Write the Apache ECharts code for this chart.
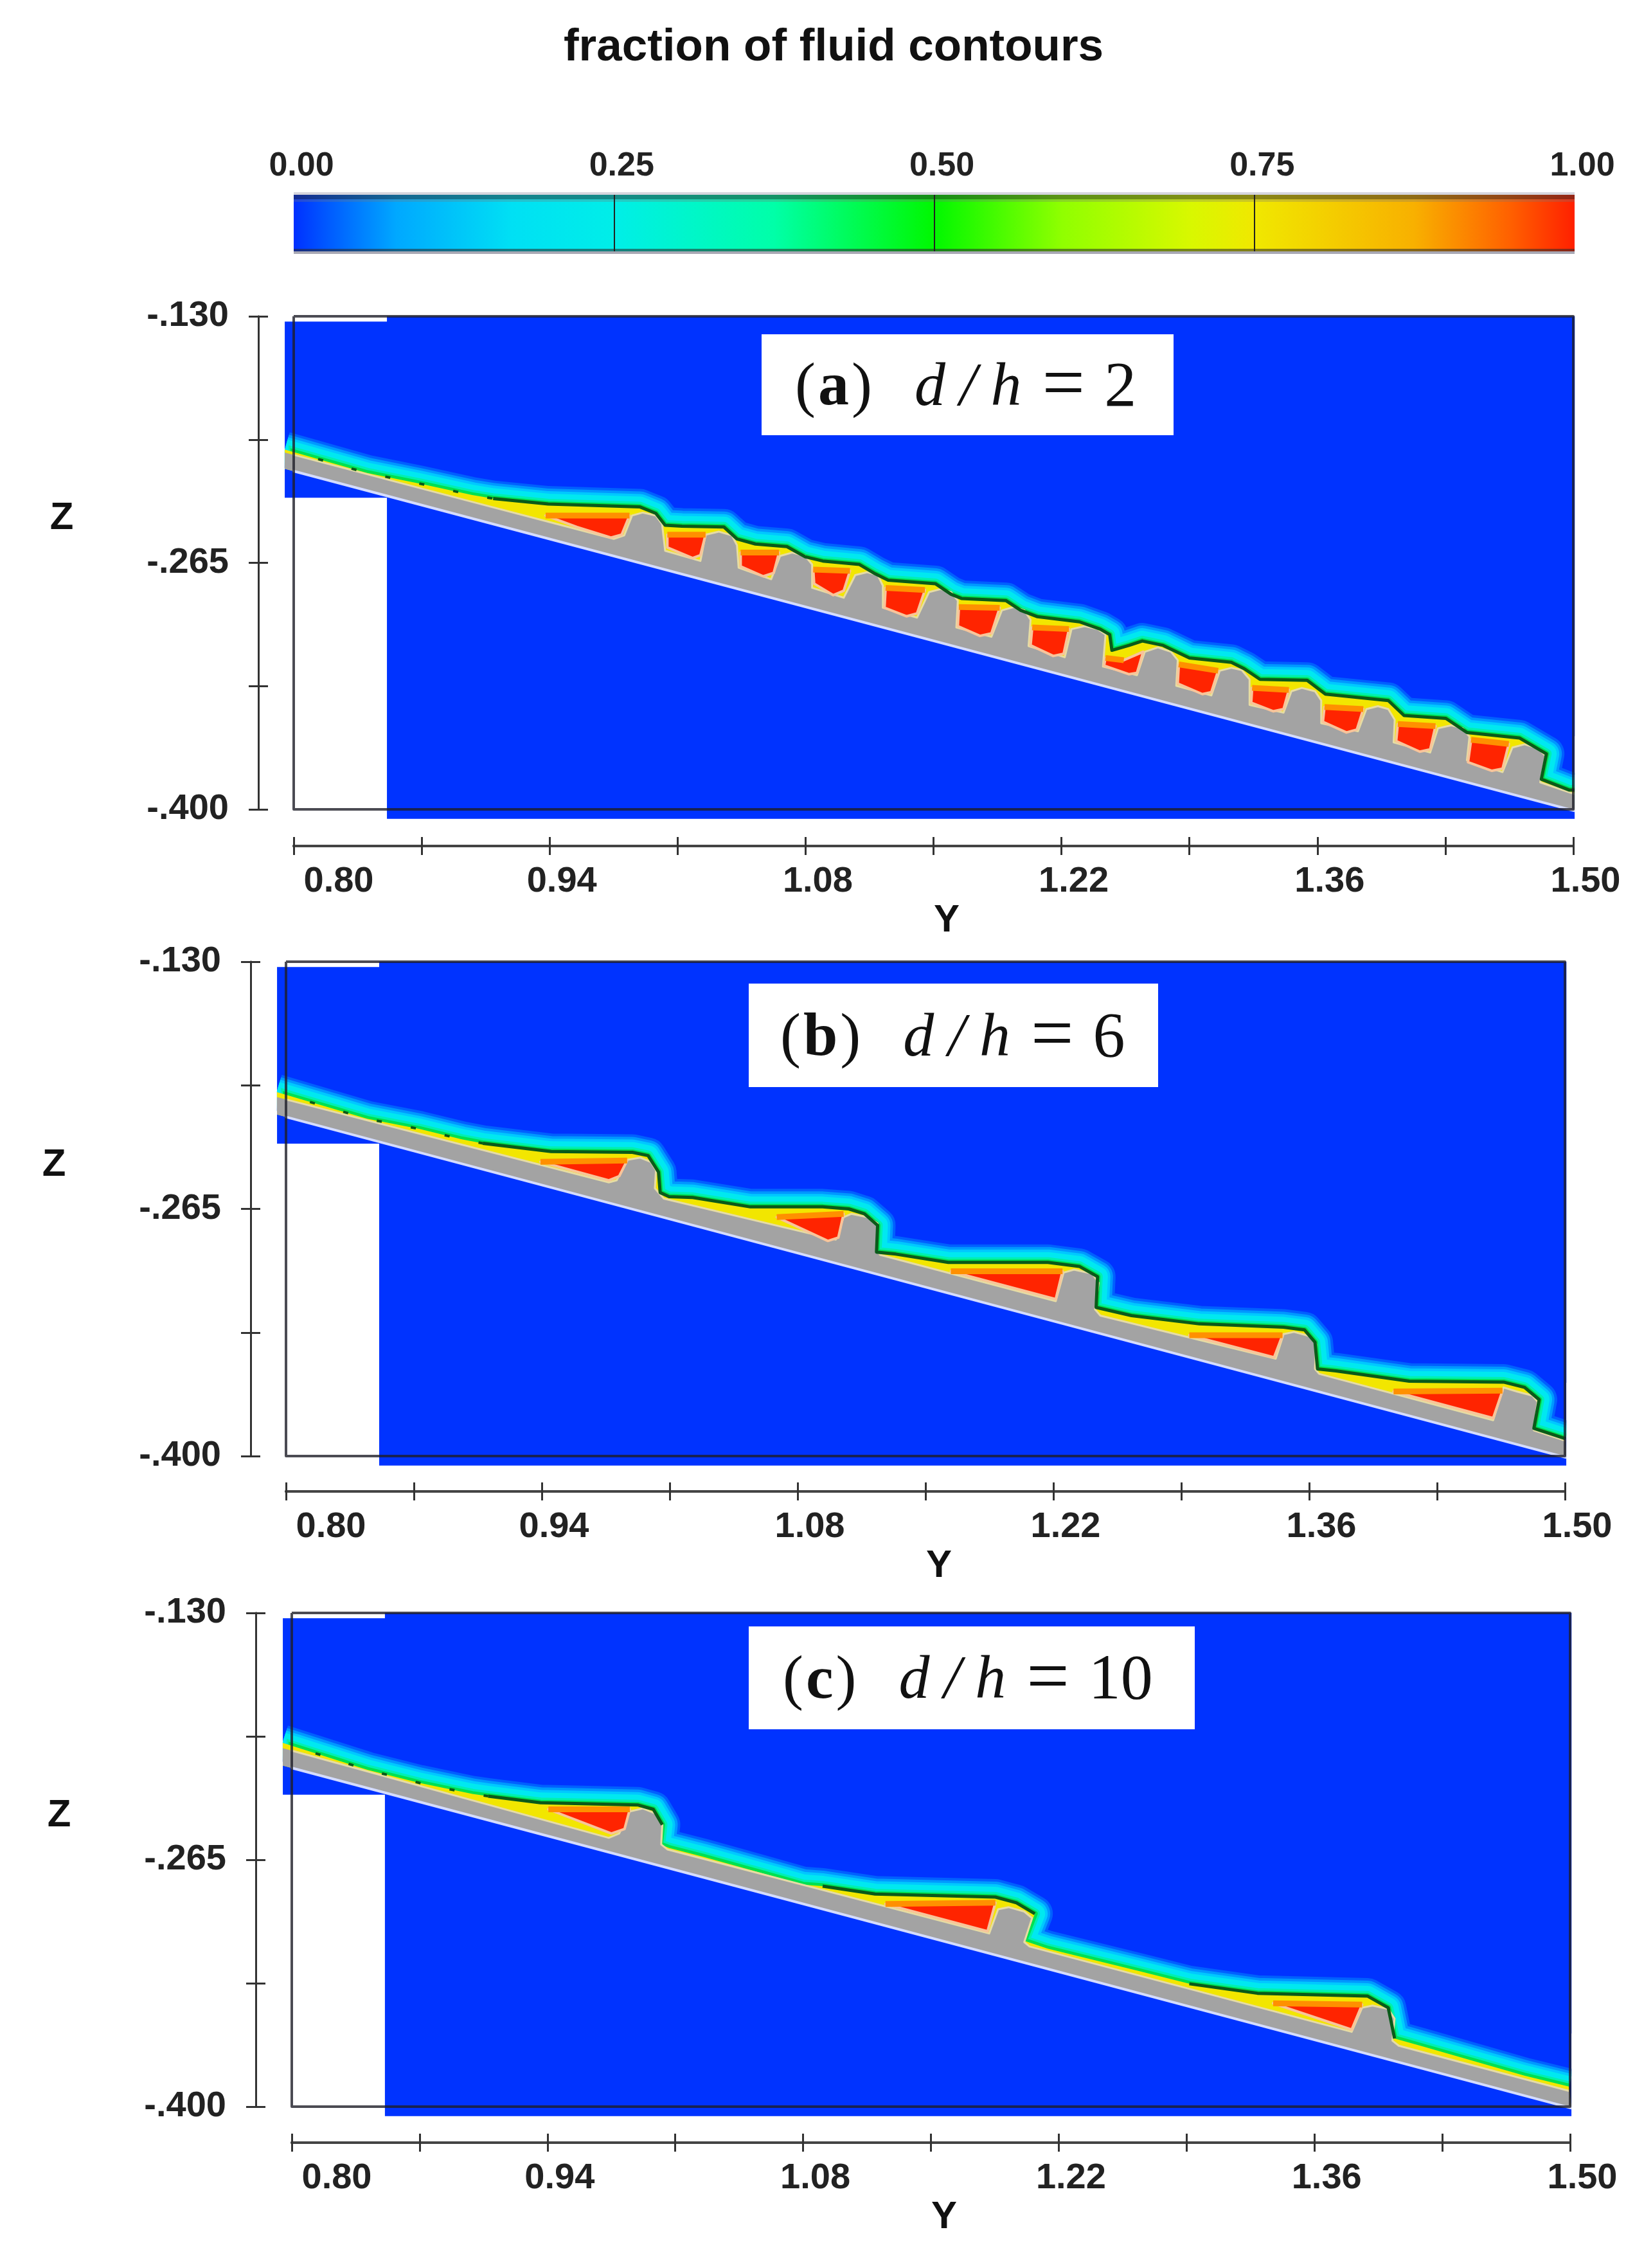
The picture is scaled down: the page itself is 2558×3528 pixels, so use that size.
<!DOCTYPE html>
<html>
<head>
<meta charset="utf-8">
<title>fraction of fluid contours</title>
<script src="https://cdn.jsdelivr.net/npm/echarts@6/dist/echarts.min.js"></script>
<style>html,body{margin:0;background:#fff}#chart{width:2558px;height:3528px}</style>
</head>
<body>
<div id="chart"></div>
<script>
// axis values
var yTickValues = [0.80, 0.87, 0.94, 1.01, 1.08, 1.15, 1.22, 1.29, 1.36, 1.43, 1.50];
var yLabelValues = [0.80, 0.94, 1.08, 1.22, 1.36, 1.50];
var zTickValues = [-0.400, -0.3325, -0.265, -0.1975, -0.130];
var zLabelValues = [-0.400, -0.265, -0.130];

// colour bar
var barStops = [0, 0.02, 0.08, 0.17, 0.25, 0.375, 0.5, 0.6, 0.7, 0.75, 0.875, 0.95, 1];
var barColors = ['#0030ff', '#0050ff', '#00a8ff', '#00e0f4', '#00eee8', '#00ffa8', '#00f800', '#90ff00', '#d8f800', '#f0e800', '#f8b000', '#ff6000', '#ff2000'];

// computational domain and plate underside, same in all three panels
var domain = [[0.851, -0.13], [1.5008, -0.13], [1.5008, -0.4052], [0.851, -0.4052], [0.851, -0.2294], [0.7951, -0.2294], [0.7951, -0.1329], [0.851, -0.1329]];
var plateLower = [[1.5008, -0.4008], [0.7951, -0.2135]];
// blank strips either side of the domain, they trim the ends of the contour bands
var trimLeft = [[0.787, -0.17], [0.795, -0.17], [0.795, -0.225], [0.787, -0.225]];
var trimRight = [[1.5008, -0.36], [1.52, -0.36], [1.52, -0.41], [1.5008, -0.41]];

// (a) d/h = 2
var surfaceA = [[0.7951,-0.2030],[0.8402,-0.2158],[0.8689,-0.2216],[0.8976,-0.2279],[0.9091,-0.2298],[0.9392,-0.2328],[0.9895,-0.2344],[0.9981,-0.2379],[1.0032,-0.2444],[1.0124,-0.2449],[1.0354,-0.2454],[1.0425,-0.2519],[1.0526,-0.2547],[1.0698,-0.2561],[1.0798,-0.2617],[1.0894,-0.2640],[1.1095,-0.2659],[1.1181,-0.2710],[1.1252,-0.2745],[1.1510,-0.2764],[1.1596,-0.2822],[1.1653,-0.2845],[1.1897,-0.2857],[1.1977,-0.2910],[1.2069,-0.2945],[1.2298,-0.2973],[1.2412,-0.3013],[1.2464,-0.3043],[1.2476,-0.3129],[1.2570,-0.3102],[1.2642,-0.3078],[1.2756,-0.3102],[1.2900,-0.3171],[1.3129,-0.3195],[1.3200,-0.3230],[1.3286,-0.3288],[1.3544,-0.3293],[1.3644,-0.3369],[1.3988,-0.3404],[1.4074,-0.3486],[1.4303,-0.3502],[1.4418,-0.3579],[1.4705,-0.3609],[1.4853,-0.3696],[1.4825,-0.3835],[1.4977,-0.3894],[1.5008,-0.3894]];
var plateA = [[0.7951,-0.2046],[0.8976,-0.2316],[0.9378,-0.2421],[0.9751,-0.2519],[0.9808,-0.2500],[0.9851,-0.2391],[0.9909,-0.2375],[0.9981,-0.2391],[1.0015,-0.2437],[1.0032,-0.2584],[1.0225,-0.2640],[1.0253,-0.2496],[1.0325,-0.2479],[1.0397,-0.2500],[1.0425,-0.2554],[1.0434,-0.2677],[1.0612,-0.2740],[1.0661,-0.2612],[1.0727,-0.2594],[1.0798,-0.2612],[1.0836,-0.2659],[1.0836,-0.2787],[1.1009,-0.2841],[1.1072,-0.2717],[1.1138,-0.2701],[1.1195,-0.2717],[1.1223,-0.2775],[1.1223,-0.2896],[1.1410,-0.2950],[1.1476,-0.2810],[1.1539,-0.2794],[1.1596,-0.2810],[1.1633,-0.2857],[1.1625,-0.3004],[1.1817,-0.3055],[1.1874,-0.2910],[1.1940,-0.2892],[1.1997,-0.2910],[1.2031,-0.2962],[1.2020,-0.3106],[1.2218,-0.3167],[1.2255,-0.3013],[1.2327,-0.2997],[1.2398,-0.3013],[1.2441,-0.3043],[1.2427,-0.3218],[1.2613,-0.3265],[1.2656,-0.3137],[1.2728,-0.3113],[1.2799,-0.3137],[1.2836,-0.3183],[1.2828,-0.3323],[1.3020,-0.3376],[1.3066,-0.3241],[1.3129,-0.3225],[1.3186,-0.3237],[1.3229,-0.3288],[1.3229,-0.3428],[1.3415,-0.3470],[1.3458,-0.3353],[1.3515,-0.3335],[1.3587,-0.3353],[1.3621,-0.3404],[1.3621,-0.3528],[1.3822,-0.3572],[1.3868,-0.3451],[1.3931,-0.3435],[1.3988,-0.3451],[1.4023,-0.3509],[1.4017,-0.3633],[1.4217,-0.3689],[1.4260,-0.3556],[1.4332,-0.3540],[1.4395,-0.3556],[1.4432,-0.3602],[1.4418,-0.3731],[1.4613,-0.3796],[1.4667,-0.3661],[1.4733,-0.3644],[1.4805,-0.3665],[1.4848,-0.3707],[1.4819,-0.3852],[1.5008,-0.3917]];
var pocketsA = [
  [[0.9378,-0.2391],[0.9837,-0.2391],[0.9794,-0.2496],[0.9737,-0.2512],[0.9550,-0.2454]],
  [[1.0044,-0.2496],[1.0253,-0.2496],[1.0225,-0.2608],[1.0182,-0.2624],[1.0044,-0.2566]],
  [[1.0445,-0.2594],[1.0655,-0.2594],[1.0626,-0.2705],[1.0569,-0.2724],[1.0445,-0.2670]],
  [[1.0842,-0.2687],[1.1043,-0.2694],[1.1009,-0.2803],[1.0951,-0.2827],[1.0847,-0.2764]],
  [[1.1238,-0.2787],[1.1453,-0.2799],[1.1410,-0.2927],[1.1352,-0.2943],[1.1232,-0.2896]],
  [[1.1639,-0.2892],[1.1862,-0.2896],[1.1817,-0.3036],[1.1754,-0.3050],[1.1633,-0.2997]],
  [[1.2040,-0.3004],[1.2241,-0.3013],[1.2212,-0.3148],[1.2155,-0.3160],[1.2031,-0.3102]],
  [[1.2441,-0.3171],[1.2541,-0.3183],[1.2647,-0.3137],[1.2613,-0.3253],[1.2570,-0.3260],[1.2433,-0.3213]],
  [[1.2842,-0.3206],[1.3057,-0.3241],[1.3020,-0.3358],[1.2971,-0.3369],[1.2836,-0.3311]],
  [[1.3243,-0.3335],[1.3444,-0.3346],[1.3415,-0.3451],[1.3358,-0.3463],[1.3238,-0.3416]],
  [[1.3639,-0.3439],[1.3851,-0.3451],[1.3816,-0.3563],[1.3759,-0.3579],[1.3630,-0.3521]],
  [[1.4040,-0.3533],[1.4246,-0.3544],[1.4217,-0.3672],[1.4160,-0.3684],[1.4031,-0.3626]],
  [[1.4441,-0.3619],[1.4647,-0.3642],[1.4613,-0.3777],[1.4555,-0.3789],[1.4424,-0.3742]]
];

// (b) d/h = 6
var surfaceB = [[0.7949,-0.2012],[0.8445,-0.2158],[0.8733,-0.2214],[0.8962,-0.2270],[0.9077,-0.2292],[0.9451,-0.2337],[0.9896,-0.2341],[0.9982,-0.2359],[1.0039,-0.2449],[1.0048,-0.2561],[1.0097,-0.2583],[1.0226,-0.2588],[1.0542,-0.2639],[1.0937,-0.2639],[1.1080,-0.2650],[1.1166,-0.2677],[1.1238,-0.2740],[1.1232,-0.2886],[1.1338,-0.2897],[1.1625,-0.2942],[1.2170,-0.2942],[1.2342,-0.2964],[1.2442,-0.3020],[1.2434,-0.3188],[1.2628,-0.3233],[1.2999,-0.3278],[1.3460,-0.3296],[1.3575,-0.3311],[1.3632,-0.3378],[1.3646,-0.3524],[1.3747,-0.3535],[1.4148,-0.3591],[1.4664,-0.3596],[1.4779,-0.3625],[1.4859,-0.3692],[1.4830,-0.3849],[1.5002,-0.3905]];
var plateB = [[0.7949,-0.2039],[0.9767,-0.2505],[0.9810,-0.2494],[0.9867,-0.2382],[0.9939,-0.2370],[0.9996,-0.2393],[1.0025,-0.2438],[1.0019,-0.2538],[1.0068,-0.2594],[1.1009,-0.2818],[1.1052,-0.2695],[1.1095,-0.2677],[1.1181,-0.2695],[1.1238,-0.2729],[1.1232,-0.2874],[1.1252,-0.2901],[1.2213,-0.3154],[1.2256,-0.2998],[1.2313,-0.2982],[1.2414,-0.3004],[1.2448,-0.3054],[1.2428,-0.3199],[1.2457,-0.3233],[1.3417,-0.3468],[1.3460,-0.3334],[1.3517,-0.3322],[1.3603,-0.3345],[1.3638,-0.3390],[1.3632,-0.3524],[1.3655,-0.3551],[1.4607,-0.3804],[1.4664,-0.3625],[1.4736,-0.3647],[1.4822,-0.3670],[1.4850,-0.3703],[1.4830,-0.3860],[1.5002,-0.3916]];
var pocketsB = [
  [[0.9393,-0.2393],[0.9867,-0.2386],[0.9824,-0.2471],[0.9767,-0.2494]],
  [[1.0686,-0.2695],[1.1052,-0.2677],[1.1023,-0.2807],[1.0966,-0.2825]],
  [[1.1639,-0.2991],[1.2250,-0.2991],[1.2213,-0.3143]],
  [[1.2944,-0.3340],[1.3454,-0.3340],[1.3408,-0.3461]],
  [[1.4062,-0.3647],[1.4658,-0.3643],[1.4607,-0.3793]]
];

// (c) d/h = 10
var surfaceC = [[0.7949,-0.2010],[0.8414,-0.2158],[0.8701,-0.2230],[0.8989,-0.2290],[0.9075,-0.2302],[0.9362,-0.2338],[0.9894,-0.2350],[0.9980,-0.2374],[1.0029,-0.2458],[1.0017,-0.2566],[1.0066,-0.2585],[1.0253,-0.2633],[1.0569,-0.2721],[1.0799,-0.2786],[1.0907,-0.2794],[1.1194,-0.2837],[1.1853,-0.2854],[1.1968,-0.2885],[1.2069,-0.2945],[1.2011,-0.3093],[1.2140,-0.3136],[1.2628,-0.3256],[1.2915,-0.3328],[1.3288,-0.3380],[1.3890,-0.3395],[1.4004,-0.3459],[1.4039,-0.3627],[1.4205,-0.3674],[1.4750,-0.3830],[1.4994,-0.3890]];
var plateC = [[0.7949,-0.2039],[0.9736,-0.2530],[0.9793,-0.2506],[0.9851,-0.2386],[0.9923,-0.2369],[0.9994,-0.2398],[1.0029,-0.2458],[1.0023,-0.2566],[1.0058,-0.2594],[1.1819,-0.3053],[1.1868,-0.2921],[1.1925,-0.2909],[1.2011,-0.2933],[1.2054,-0.2969],[1.2011,-0.3100],[1.2040,-0.3124],[1.3804,-0.3591],[1.3861,-0.3459],[1.3918,-0.3447],[1.4004,-0.3466],[1.4039,-0.3519],[1.4027,-0.3639],[1.4062,-0.3667],[1.4994,-0.3914]];
var pocketsC = [
  [[0.9405,-0.2374],[0.9851,-0.2374],[0.9822,-0.2482],[0.9750,-0.2506]],
  [[1.1251,-0.2892],[1.1853,-0.2885],[1.1810,-0.3041]],
  [[1.3374,-0.3435],[1.3861,-0.3442],[1.3804,-0.3579]]
];

var panels = [
  {surface: surfaceA, plate: plateA, pockets: pocketsA, solid: [[4, 46]], grid: {left: 457, top: 492, width: 1991, height: 767}, offY: 55, offX: 57,
   box: [1185, 520, 641, 157], tag: 'a', value: '2', textX: 1237, zPos: [96, 806], yPos: [1473, 1432]},
  {surface: surfaceB, plate: plateB, pockets: pocketsB, solid: [[4, 36]], grid: {left: 445, top: 1496, width: 1990, height: 769}, offY: 55, offX: 55,
   box: [1165, 1530, 637, 161], tag: 'b', value: '6', textX: 1214, zPos: [84, 1812], yPos: [1461, 2436]},
  {surface: surfaceC, plate: plateC, pockets: pocketsC, solid: [[4, 8], [14, 18], [22, 26]], grid: {left: 454, top: 2509, width: 1989, height: 768}, offY: 56, offX: 56,
   box: [1165, 2530, 694, 160], tag: 'c', value: '10', textX: 1218, zPos: [92, 2824], yPos: [1469, 3449]}
];

var sansFont = 'Liberation Sans';
var serifFont = 'Liberation Serif';
var inkColor = '#222';
var glow = [[56, '#0060ff'], [48, '#0098ff'], [40, '#00c8ff'], [32, '#00e8f0'], [16, '#00f0b0'], [9, '#00e050']];

function polygon(points, fill, stroke, z, idx) {
  return {
    type: 'custom', xAxisIndex: idx, yAxisIndex: idx, data: points, z: z, silent: true,
    encode: {x: 0, y: 1},
    renderItem: function (params, api) {
      if (params.dataIndex !== 0) return null;
      return {
        type: 'polygon',
        shape: {points: points.map(function (p) { return api.coord(p); })},
        style: {fill: fill, stroke: stroke, lineWidth: stroke ? 4 : 0, lineJoin: 'round'}
      };
    }
  };
}

function line(points, color, width, z, idx, dash) {
  return {
    type: 'line', xAxisIndex: idx, yAxisIndex: idx, data: points, z: z, silent: true, clip: false,
    showSymbol: false, symbol: 'none',
    lineStyle: {color: color, width: width, type: dash || 'solid', join: 'round', cap: 'butt'}
  };
}

var xAxes = [{
  gridIndex: 0, type: 'value', position: 'top', min: 0, max: 1, interval: 0.25, z: 10,
  axisLine: {show: false}, axisTick: {show: false},
  splitLine: {show: true, showMinLine: false, showMaxLine: false, lineStyle: {color: '#222', width: 2}},
  axisLabel: {
    margin: 18, formatter: function (v) { return '{t|' + v.toFixed(2) + '}'; },
    rich: {t: {fontFamily: sansFont, fontWeight: 'bold', fontSize: 52, color: inkColor, padding: [0, 0, 0, 24]}}
  }
}];
var yAxes = [{gridIndex: 0, type: 'value', min: 0, max: 1, show: false}];
var grids = [{left: 457, top: 303, width: 1993, height: 88}];

var series = [{
  type: 'custom', xAxisIndex: 0, yAxisIndex: 0, data: [[0, 1]], z: 2, silent: true,
  encode: {x: 0, y: 1},
  renderItem: function (params, api) {
    var a = api.coord([0, 1]), b = api.coord([1, 0]), w = b[0] - a[0];
    var stops = barStops.map(function (s, i) { return {offset: s, color: barColors[i]}; });
    return {type: 'group', children: [
      {type: 'rect', shape: {x: a[0], y: a[1], width: w, height: b[1] - a[1]},
       style: {fill: new echarts.graphic.LinearGradient(0, 0, 1, 0, stops)}},
      {type: 'rect', shape: {x: a[0], y: a[1] - 4, width: w, height: 4}, style: {fill: 'rgba(150,150,170,0.4)'}},
      {type: 'rect', shape: {x: a[0], y: a[1], width: w, height: 7}, style: {fill: 'rgba(40,40,40,0.5)'}},
      {type: 'rect', shape: {x: a[0], y: a[1] + 7, width: w, height: 4}, style: {fill: 'rgba(120,120,120,0.3)'}},
      {type: 'rect', shape: {x: a[0], y: b[1] - 4, width: w, height: 4}, style: {fill: 'rgba(40,40,40,0.55)'}},
      {type: 'rect', shape: {x: a[0], y: b[1], width: w, height: 4}, style: {fill: 'rgba(110,110,130,0.6)'}}
    ]};
  }
}];

var graphics = [];

panels.forEach(function (p, n) {
  var idx = n * 2 + 1;        // main axes, the next pair only adds the inner half of the ticks
  grids.push(p.grid);

  var sharedY = {gridIndex: n + 1, type: 'value', min: 0.8, max: 1.5, position: 'bottom', offset: p.offX, splitLine: {show: false},
    axisLine: {lineStyle: {color: '#444', width: 4}}};
  var sharedZ = {gridIndex: n + 1, type: 'value', min: -0.4, max: -0.13, position: 'left', offset: p.offY, splitLine: {show: false},
    axisLine: {lineStyle: {color: '#333', width: 3}}};

  xAxes.push(Object.assign({}, sharedY, {
    axisTick: {length: 14, customValues: yTickValues, lineStyle: {color: '#333', width: 3}},
    axisLabel: {
      margin: 28, customValues: yLabelValues,
      formatter: function (v) { return (Math.abs(v - 0.8) < 1e-6 ? '{first|' : '{rest|') + v.toFixed(2) + '}'; },
      rich: {
        first: {fontFamily: sansFont, fontWeight: 'bold', fontSize: 56, color: inkColor, padding: [0, 0, 0, 140]},
        rest: {fontFamily: sansFont, fontWeight: 'bold', fontSize: 56, color: inkColor, padding: [0, 0, 0, 38]}
      }
    }
  }));
  xAxes.push(Object.assign({}, sharedY, {
    axisTick: {inside: true, length: 14, customValues: yTickValues, lineStyle: {color: '#333', width: 3}},
    axisLabel: {show: false}
  }));
  yAxes.push(Object.assign({}, sharedZ, {
    axisTick: {length: 15, customValues: zTickValues, lineStyle: {color: '#333', width: 3}},
    axisLabel: {
      margin: 46, customValues: zLabelValues,
      fontFamily: sansFont, fontWeight: 'bold', fontSize: 56, color: inkColor,
      formatter: function (v) { return '-' + Math.abs(v).toFixed(3).slice(1); }
    }
  }));
  yAxes.push(Object.assign({}, sharedZ, {
    axisTick: {inside: true, length: 15, customValues: zTickValues, lineStyle: {color: '#333', width: 3}},
    axisLabel: {show: false}
  }));

  series.push(polygon(domain, '#0033ff', null, 1, idx));
  glow.forEach(function (g) { series.push(line(p.surface, g[1], g[0], 2, idx)); });
  series.push(polygon(p.surface.concat(plateLower), '#f2e600', null, 3, idx));
  series.push(polygon(p.plate.concat(plateLower), '#a3a3a3', null, 4, idx));
  series.push(line(p.plate, '#e6dca4', 3, 4, idx));
  p.pockets.forEach(function (pk) {
    series.push(polygon(pk, '#ff2400', '#f8c49a', 5, idx));
    series.push(line(pk.slice(0, 2), '#ff9000', 9, 5, idx));
  });
  series.push(line(p.surface.slice(0, 5), '#0a5a1a', 4, 6, idx, [8, 46]));
  p.solid.forEach(function (r) { series.push(line(p.surface.slice(r[0], r[1] + 1), '#0a5a1a', 5, 6, idx)); });
  series.push(line(plateLower, '#d4dcff', 4, 7, idx));
  series.push(polygon(trimLeft, '#fff', null, 7, idx));
  series.push(polygon(trimRight, '#fff', null, 7, idx));

  // frame of the plot area
  series.push(line([[0.8, -0.13], [1.5, -0.13], [1.5, -0.4], [0.8, -0.4], [0.8, -0.13]], 'rgba(30,30,40,0.8)', 4, 8, idx));

  graphics.push({type: 'rect', shape: {x: p.box[0], y: p.box[1], width: p.box[2], height: p.box[3]}, style: {fill: '#fff'}, z: 20});
  graphics.push({
    type: 'text', x: p.textX, y: p.box[1] + p.box[3] / 2 + 6, z: 21,
    style: {
      text: '{n|(}{b|' + p.tag + '}{n|)}{d|d}{i|/}{i|h}{e|=}{v|' + p.value + '}',
      verticalAlign: 'middle',
      rich: {
        n: {fontFamily: serifFont, fontSize: 96, fill: '#111'},
        b: {fontFamily: serifFont, fontSize: 96, fontWeight: 'bold', fill: '#111', padding: [0, 4, 0, 4]},
        d: {fontFamily: serifFont, fontSize: 96, fontStyle: 'italic', fill: '#111', padding: [0, 0, 0, 66]},
        i: {fontFamily: serifFont, fontSize: 96, fontStyle: 'italic', fill: '#111', padding: [0, 0, 0, 22]},
        e: {fontFamily: serifFont, fontSize: 118, fill: '#111', padding: [0, 0, 0, 32]},
        v: {fontFamily: serifFont, fontSize: 100, fill: '#111', padding: [0, 0, 0, 30]}
      }
    }
  });
  graphics.push({type: 'text', x: p.zPos[0], y: p.zPos[1], z: 21,
    style: {text: 'Z', fontFamily: sansFont, fontWeight: 'bold', fontSize: 60, fill: '#111', align: 'center', verticalAlign: 'middle'}});
  graphics.push({type: 'text', x: p.yPos[0], y: p.yPos[1], z: 21,
    style: {text: 'Y', fontFamily: sansFont, fontWeight: 'bold', fontSize: 60, fill: '#111', align: 'center', verticalAlign: 'middle'}});
});

var chart = echarts.init(document.getElementById('chart'));
chart.setOption({
  animation: false,
  backgroundColor: '#fff',
  title: {
    text: 'fraction of fluid contours', left: 1292, top: 34, textAlign: 'center',
    textStyle: {fontFamily: sansFont, fontWeight: 'bold', fontSize: 71, color: '#111'}
  },
  grid: grids,
  xAxis: xAxes,
  yAxis: yAxes,
  series: series,
  graphic: graphics
});
</script>
</body>
</html>
